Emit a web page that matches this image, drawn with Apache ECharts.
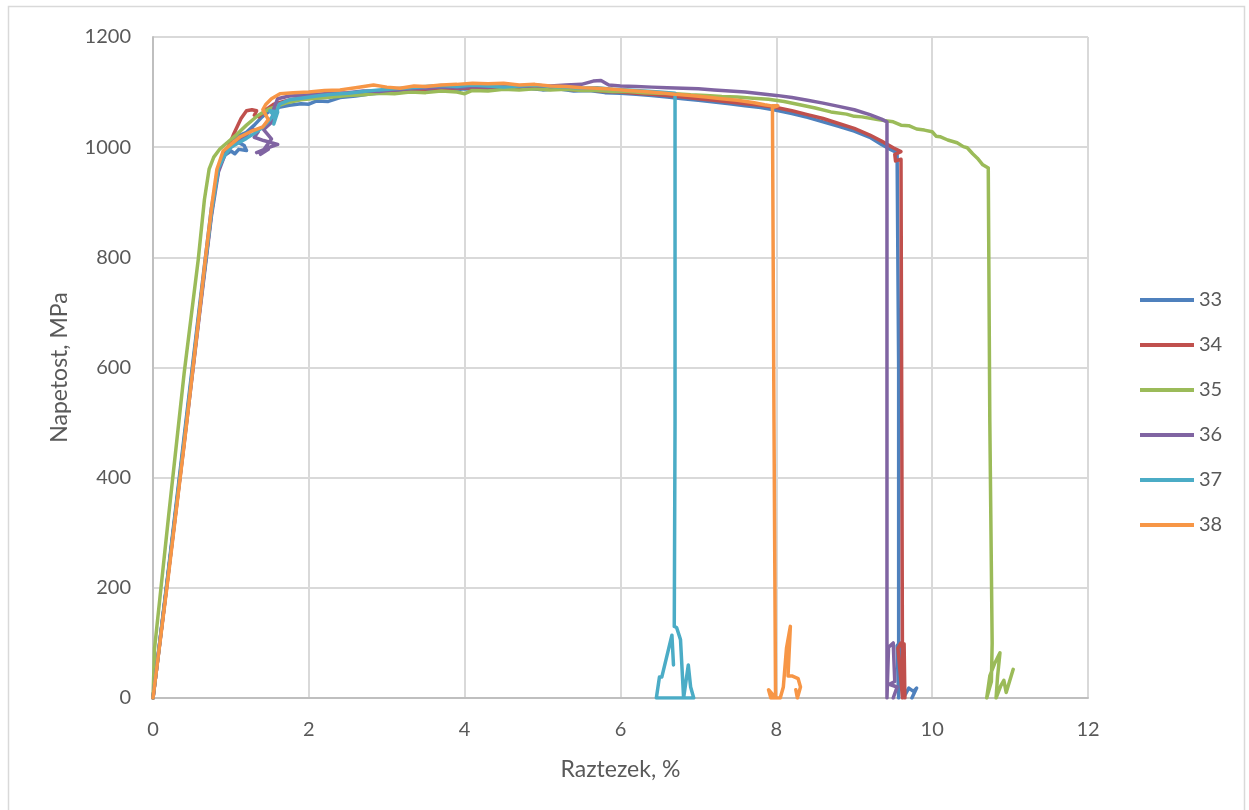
<!DOCTYPE html>
<html><head><meta charset="utf-8">
<script src="https://cdn.jsdelivr.net/npm/echarts@6/dist/echarts.min.js"></script>
<style>html,body{margin:0;padding:0;background:#fff}#c{width:1249px;height:810px}</style>
</head><body><div id="c"></div>
<script>
const seriesNames = ['33','34','35','36','37','38'];
const xTicks = [0,2,4,6,8,10,12];
const yTicks = [0,200,400,600,800,1000,1200];

const s33 = [[0,0],[0.2,235],[0.4,475],[0.6,715],[0.75,890],[0.85,965],[0.92,985],[1.0,993],[1.05,988],[1.1,996],[1.2,994],[1.17,1003],[1.08,1010],[1.03,1018],[1.12,1022],[1.2,1027],[1.3,1040],[1.4,1055],[1.5,1066],[1.6,1072],[1.75,1076],[1.9,1079],[2.0,1078],[2.1,1084],[2.25,1083],[2.4,1090],[2.6,1093],[2.8,1097],[3.0,1099],[3.2,1101],[3.4,1100],[3.6,1104],[3.8,1103],[4.0,1106],[4.2,1104],[4.4,1108],[4.6,1105],[4.8,1107],[5.0,1104],[5.2,1106],[5.4,1102],[5.6,1103],[5.8,1099],[6.0,1098],[6.2,1096],[6.4,1094],[6.6,1091],[6.8,1088],[7.0,1085],[7.2,1082],[7.4,1079],[7.6,1075],[7.8,1072],[8.0,1067],[8.2,1061],[8.4,1054],[8.6,1046],[8.8,1038],[9.0,1029],[9.2,1018],[9.35,1005],[9.45,997],[9.55,990],[9.57,600],[9.57,0],[9.55,95],[9.58,100],[9.6,20],[9.65,5],[9.7,18],[9.76,12],[9.8,18],[9.74,0]];
const s34 = [[0,0],[0.2,230],[0.4,465],[0.6,705],[0.75,880],[0.83,960],[0.9,985],[0.98,1005],[1.03,1022],[1.08,1037],[1.13,1052],[1.2,1066],[1.27,1068],[1.33,1066],[1.3,1058],[1.36,1055],[1.45,1068],[1.55,1078],[1.7,1084],[1.85,1088],[2.0,1090],[2.2,1094],[2.4,1097],[2.6,1099],[2.8,1102],[3.0,1103],[3.2,1105],[3.4,1104],[3.6,1107],[3.8,1106],[4.0,1108],[4.2,1107],[4.4,1109],[4.6,1107],[4.8,1108],[5.0,1106],[5.2,1107],[5.4,1104],[5.6,1104],[5.8,1101],[6.0,1100],[6.2,1098],[6.4,1096],[6.6,1094],[6.8,1091],[7.0,1088],[7.2,1085],[7.4,1082],[7.6,1079],[7.8,1076],[8.0,1072],[8.2,1066],[8.4,1059],[8.6,1052],[8.8,1043],[9.0,1034],[9.2,1022],[9.35,1011],[9.5,999],[9.6,992],[9.52,987],[9.53,975],[9.6,978],[9.61,500],[9.62,0],[9.56,90],[9.6,100],[9.64,98],[9.65,0]];
const s35 = [[0,0],[0.02,90],[0.2,330],[0.4,590],[0.58,795],[0.66,905],[0.72,960],[0.78,982],[0.86,997],[0.95,1008],[1.05,1020],[1.2,1040],[1.35,1058],[1.5,1070],[1.7,1080],[1.9,1086],[2.1,1089],[2.3,1091],[2.5,1094],[2.7,1095],[2.9,1098],[3.1,1097],[3.3,1100],[3.5,1099],[3.7,1102],[3.9,1100],[4.0,1097],[4.1,1103],[4.3,1102],[4.5,1105],[4.7,1104],[4.9,1106],[5.1,1104],[5.3,1105],[5.5,1103],[5.7,1103],[5.9,1101],[6.1,1101],[6.3,1099],[6.5,1098],[6.7,1097],[6.9,1095],[7.1,1094],[7.3,1092],[7.5,1091],[7.7,1089],[7.9,1087],[8.1,1083],[8.3,1077],[8.5,1071],[8.7,1064],[8.9,1060],[9.0,1056],[9.1,1055],[9.3,1050],[9.5,1046],[9.6,1040],[9.7,1039],[9.8,1033],[9.9,1031],[10.0,1028],[10.05,1020],[10.1,1019],[10.2,1013],[10.32,1008],[10.4,1001],[10.45,999],[10.52,988],[10.58,980],[10.65,968],[10.72,962],[10.74,500],[10.77,100],[10.76,30],[10.70,0],[10.74,40],[10.80,62],[10.87,82],[10.84,40],[10.82,0],[10.88,22],[10.92,32],[10.95,10],[11.04,52]];
const s36 = [[0,0],[0.2,230],[0.4,462],[0.6,700],[0.75,875],[0.84,955],[0.92,985],[1.0,1000],[1.1,1012],[1.2,1022],[1.28,1032],[1.35,1028],[1.3,1018],[1.42,1012],[1.6,1005],[1.5,1000],[1.33,990],[1.48,996],[1.38,987],[1.52,1015],[1.42,1032],[1.52,1045],[1.55,1070],[1.6,1088],[1.75,1093],[1.9,1094],[2.1,1096],[2.3,1098],[2.5,1099],[2.7,1102],[2.9,1101],[3.1,1104],[3.3,1106],[3.5,1107],[3.7,1109],[3.9,1108],[4.1,1110],[4.3,1109],[4.5,1111],[4.7,1110],[4.9,1112],[5.1,1111],[5.3,1113],[5.5,1114],[5.65,1120],[5.75,1121],[5.85,1113],[6.0,1111],[6.2,1110],[6.4,1109],[6.6,1108],[6.8,1107],[7.0,1106],[7.2,1104],[7.4,1102],[7.6,1100],[7.8,1097],[8.0,1094],[8.2,1090],[8.4,1085],[8.6,1080],[8.8,1074],[9.0,1068],[9.2,1059],[9.35,1051],[9.42,1046],[9.42,0],[9.44,92],[9.5,100],[9.52,30],[9.45,25],[9.55,20],[9.5,0]];
const s37 = [[0,0],[0.2,232],[0.4,468],[0.6,708],[0.75,880],[0.84,962],[0.92,985],[1.0,1000],[1.1,1008],[1.2,1016],[1.3,1025],[1.4,1035],[1.47,1045],[1.55,1058],[1.5,1066],[1.6,1064],[1.55,1042],[1.58,1060],[1.62,1078],[1.75,1086],[1.9,1089],[2.1,1093],[2.3,1096],[2.5,1098],[2.7,1101],[2.9,1104],[3.1,1106],[3.3,1108],[3.5,1110],[3.7,1112],[3.9,1110],[4.1,1113],[4.3,1111],[4.5,1109],[4.7,1111],[4.9,1113],[5.1,1110],[5.3,1109],[5.5,1107],[5.7,1108],[5.9,1105],[6.1,1104],[6.3,1102],[6.5,1100],[6.7,1098],[6.70,500],[6.69,130],[6.72,128],[6.77,106],[6.81,0],[6.85,40],[6.87,60],[6.90,20],[6.94,0],[6.46,0],[6.50,38],[6.53,38],[6.66,114],[6.68,60]];
const s38 = [[0,0],[0.2,225],[0.4,460],[0.6,705],[0.67,795],[0.76,900],[0.82,960],[0.9,993],[1.0,1005],[1.12,1019],[1.25,1028],[1.41,1037],[1.48,1050],[1.41,1068],[1.45,1078],[1.52,1088],[1.63,1097],[1.8,1099],[2.0,1100],[2.2,1103],[2.4,1104],[2.6,1108],[2.83,1113],[3.0,1109],[3.17,1107],[3.35,1111],[3.5,1110],[3.7,1113],[3.9,1114],[4.1,1116],[4.3,1115],[4.5,1116],[4.7,1113],[4.9,1114],[5.1,1111],[5.3,1110],[5.5,1108],[5.7,1107],[5.9,1105],[6.1,1103],[6.3,1101],[6.5,1099],[6.7,1096],[6.9,1094],[7.1,1091],[7.3,1088],[7.5,1085],[7.7,1081],[7.85,1077],[7.94,1075],[8.02,1075],[7.95,1072],[7.97,500],[7.99,0],[7.90,15],[7.93,0],[8.05,0],[8.09,20],[8.13,90],[8.18,130],[8.15,40],[8.20,40],[8.28,35],[8.31,20],[8.27,0],[8.25,15]];

const colors = ['#4F81BD','#C0504D','#9BBB59','#8064A2','#4BACC6','#F79646'];
const allData = [s33,s34,s35,s36,s37,s38];

const chart = echarts.init(document.getElementById('c'));
const font = 'Lato, "Open Sans", sans-serif';
chart.setOption({
  animation: false,
  backgroundColor: '#fff',
  color: colors,
  graphic: [{type:'rect', shape:{x:8.5,y:6.5,width:1236,height:820}, style:{fill:'none', stroke:'#d9d9d9', lineWidth:1.5}, silent:true}],
  grid: {left:153, right:161, top:37, bottom:112, containLabel:false},
  legend: {
    orient:'vertical', left:1135, top:285, itemWidth:54, itemHeight:4, itemGap:25, icon:'rect',
    textStyle:{fontFamily:font, fontSize:20, color:'#595959'},
    data: seriesNames
  },
  xAxis: {
    type:'value', min:xTicks[0], max:xTicks[xTicks.length-1], interval:2,
    name:'Raztezek, %', nameLocation:'middle', nameGap:60,
    nameTextStyle:{fontFamily:font, fontSize:23, color:'#595959'},
    axisLine:{show:true, lineStyle:{color:'#bfbfbf', width:2}},
    axisTick:{show:false},
    axisLabel:{fontFamily:font, fontSize:20, color:'#595959', margin:22, formatter: v => String(v)},
    splitLine:{show:true, lineStyle:{color:'#d9d9d9', width:2}}
  },
  yAxis: {
    type:'value', min:yTicks[0], max:yTicks[yTicks.length-1], interval:200,
    name:'Napetost, MPa', nameLocation:'middle', nameGap:82,
    nameTextStyle:{fontFamily:font, fontSize:23, color:'#595959'},
    axisLine:{show:true, lineStyle:{color:'#bfbfbf', width:2}},
    axisTick:{show:false},
    axisLabel:{fontFamily:font, fontSize:20, color:'#595959', margin:22, formatter: v => String(v)},
    splitLine:{show:true, lineStyle:{color:'#d9d9d9', width:2}}
  },
  series: seriesNames.map((n,i)=>({
    name:n, type:'line', data:allData[i], showSymbol:false, symbol:'none',
    lineStyle:{width:3.5, color:colors[i], join:'round', cap:'round'}, itemStyle:{color:colors[i]},
    clip:true
  }))
});
</script></body></html>
